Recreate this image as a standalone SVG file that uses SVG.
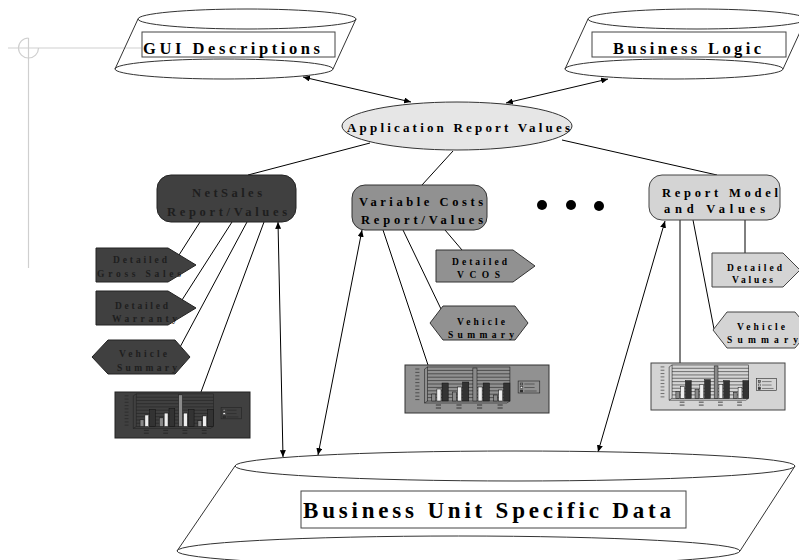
<svg xmlns="http://www.w3.org/2000/svg" xmlns:xlink="http://www.w3.org/1999/xlink" width="799" height="560" viewBox="0 0 799 560">
<style>
.cyl{fill:none;stroke:#333;stroke-width:1}
.box{fill:none;stroke:#444;stroke-width:1}
.t{font-family:"Liberation Serif","Times New Roman",serif;font-weight:bold;fill:#000}
.ln{stroke:#000;stroke-width:1;fill:none}
.dbl{stroke:#000;stroke-width:1;fill:none;marker-start:url(#ah);marker-end:url(#ah)}
.deco{stroke:#cfcfcf;stroke-width:1.2;fill:none}
.dk{fill:#404040;stroke:#222;stroke-width:1}
.md{fill:#919191;stroke:#333;stroke-width:1}
.lt{fill:#d4d4d4;stroke:#444;stroke-width:1}
.dkt{fill:#1e1e1e}
</style>
<defs>
<marker id="ah" viewBox="0 0 8 7" refX="8" refY="3.5" markerWidth="7" markerHeight="6" markerUnits="userSpaceOnUse" orient="auto-start-reverse">
<path d="M0,0 L8,3.5 L0,7 z" fill="#000"/>
</marker>
<symbol id="chart" viewBox="0 0 140 48" preserveAspectRatio="none">
<g stroke="#222" stroke-width="0.6" fill="none">
<path d="M10,4h4M10,7.4h4M10,10.8h4M10,14.2h4M10,17.6h4M10,21h4M10,24.4h4M10,27.8h4M10,31.2h4M10,34.6h4"/>
<rect x="22" y="2" width="80" height="34"/>
<path d="M22,5.4h80M22,8.8h80M22,12.2h80M22,15.6h80M22,19h80M22,22.4h80M22,25.8h80M22,29.2h80M22,32.6h80"/>
<path d="M19,4 L22,2 M19,38 L22,36 M19,4 V38 H99 L102,36"/>
</g>
<g stroke="#111" stroke-width="0.5">
<rect x="26" y="29" width="4" height="7" fill="#8a8a8a"/>
<rect x="31" y="24" width="4" height="12" fill="#eee"/>
<rect x="36" y="18" width="6" height="18" fill="#333"/>
<rect x="46" y="27" width="4" height="9" fill="#8a8a8a"/>
<rect x="51" y="22" width="4" height="14" fill="#eee"/>
<rect x="56" y="17" width="6" height="19" fill="#333"/>
<rect x="66" y="3" width="4" height="33" fill="#8a8a8a"/>
<rect x="71" y="22" width="4" height="14" fill="#eee"/>
<rect x="76" y="18" width="6" height="18" fill="#333"/>
<rect x="86" y="30" width="4" height="6" fill="#8a8a8a"/>
<rect x="91" y="25" width="4" height="11" fill="#eee"/>
<rect x="96" y="18" width="6" height="18" fill="#333"/>
</g>
<g stroke="#222" stroke-width="0.8" fill="none">
<path d="M30,40h5M30,43h5M50,40h5M50,43h5M70,40h5M70,43h5M90,40h5M90,43h5"/>
</g>
<rect x="110" y="16" width="21" height="12" fill="none" stroke="#222" stroke-width="0.6"/>
<g stroke="#222" stroke-width="0.5">
<rect x="112" y="18" width="2.5" height="2" fill="#8a8a8a"/>
<rect x="112" y="21.5" width="2.5" height="2" fill="#eee"/>
<rect x="112" y="25" width="2.5" height="2" fill="#333"/>
<path d="M116,19h10M116,22.5h10M116,26h12" fill="none"/>
</g>
</symbol>
</defs>

<g id="decoration">
<path class="deco" d="M8,48 H141"/>
<path class="deco" d="M28.5,38 V268"/>
<path class="deco" d="M28.5,38 A10,10 0 1 0 38.5,48"/>
</g>

<g id="gui">
<ellipse class="cyl" cx="247" cy="19" rx="109" ry="10"/>
<ellipse class="cyl" cx="224" cy="69" rx="109" ry="10"/>
<path class="cyl" d="M138,19 L115,69 M356,19 L333,69"/>
<rect class="box" x="142" y="32" width="193" height="25"/>
<text class="t" x="143" y="54" font-size="16.5" textLength="177" lengthAdjust="spacing">GUI Descriptions</text>
</g>

<g id="business-logic">
<ellipse class="cyl" cx="697" cy="19" rx="109" ry="10"/>
<ellipse class="cyl" cx="674" cy="69" rx="109" ry="10"/>
<path class="cyl" d="M588,19 L565,69 M806,19 L783,69"/>
<rect class="box" x="592" y="32" width="194" height="25"/>
<text class="t" x="613" y="54" font-size="16.5" textLength="148" lengthAdjust="spacing">Business Logic</text>
</g>

<g id="app-report-values">
<ellipse cx="457" cy="126" rx="115" ry="24" fill="#e6e6e6" stroke="#333"/>
<text class="t" x="347" y="132" font-size="13" textLength="223" lengthAdjust="spacing">Application Report Values</text>
</g>

<g id="connectors">
<line class="dbl" x1="303" y1="77" x2="411" y2="102"/>
<line class="dbl" x1="608" y1="79" x2="506" y2="103"/>
<line class="ln" x1="370" y1="143" x2="248" y2="175"/>
<line class="ln" x1="453" y1="151" x2="422" y2="185"/>
<line class="ln" x1="562" y1="140" x2="717" y2="175"/>
<line class="ln" x1="200" y1="222" x2="179" y2="255"/>
<line class="ln" x1="232" y1="222" x2="182" y2="300"/>
<line class="ln" x1="247" y1="222" x2="179" y2="349"/>
<line class="ln" x1="264" y1="222" x2="201" y2="392"/>
<line class="dbl" x1="278" y1="222" x2="283" y2="457"/>
<line class="ln" x1="445" y1="230" x2="462" y2="250"/>
<line class="ln" x1="403" y1="230" x2="441" y2="309"/>
<line class="ln" x1="383" y1="230" x2="428" y2="365"/>
<line class="dbl" x1="362" y1="230" x2="318" y2="455"/>
<line class="ln" x1="745" y1="220" x2="745" y2="253"/>
<line class="ln" x1="693" y1="220" x2="714" y2="329"/>
<line class="ln" x1="680" y1="220" x2="680" y2="363"/>
<line class="dbl" x1="665" y1="221" x2="598" y2="452"/>
</g>

<g id="netsales">
<rect class="dk" x="157" y="175" width="139" height="47" rx="14"/>
<text class="t dkt" x="192" y="197" font-size="12.5" textLength="70" lengthAdjust="spacing">NetSales</text>
<text class="t dkt" x="167" y="216" font-size="12.5" textLength="120" lengthAdjust="spacing">Report/Values</text>
</g>

<g id="ns-gross-sales">
<polygon class="dk" points="96,248 168,248 196,265 168,282 96,282"/>
<text class="t dkt" x="113" y="263" font-size="9.5" textLength="54" lengthAdjust="spacing">Detailed</text>
<text class="t dkt" x="97" y="277" font-size="9.5" textLength="84" lengthAdjust="spacing">Gross Sales</text>
</g>

<g id="ns-warranty">
<polygon class="dk" points="96,291 168,291 196,308 168,325 96,325"/>
<text class="t dkt" x="115" y="309" font-size="9.5" textLength="53" lengthAdjust="spacing">Detailed</text>
<text class="t dkt" x="112" y="322" font-size="9.5" textLength="65" lengthAdjust="spacing">Warranty</text>
</g>

<g id="ns-vehicle-summary">
<polygon class="dk" points="92,357 108,340 175,340 190,357 175,374 108,374"/>
<text class="t dkt" x="119" y="357" font-size="9.5" textLength="48" lengthAdjust="spacing">Vehicle</text>
<text class="t dkt" x="117" y="371" font-size="9.5" textLength="60" lengthAdjust="spacing">Summary</text>
</g>

<g id="ns-chart">
<rect class="dk" x="115" y="392" width="135" height="46"/>
<use xlink:href="#chart" x="115" y="392" width="135" height="46"/>
</g>

<g id="variable-costs">
<rect class="md" x="352" y="185" width="135" height="45" rx="13"/>
<text class="t" x="359" y="206" font-size="12.5" textLength="124" lengthAdjust="spacing">Variable Costs</text>
<text class="t" x="361" y="224" font-size="12.5" textLength="122" lengthAdjust="spacing">Report/Values</text>
</g>

<g id="vc-detailed-vcos">
<polygon class="md" points="436,250 513,250 535,266 513,282 436,282"/>
<text class="t" x="452" y="265" font-size="9.5" textLength="55" lengthAdjust="spacing">Detailed</text>
<text class="t" x="457" y="278" font-size="9.5" textLength="43" lengthAdjust="spacing">VCOS</text>
</g>

<g id="vc-vehicle-summary">
<polygon class="md" points="430,323 443,306 515,306 528,323 515,340 443,340"/>
<text class="t" x="457" y="325" font-size="9.5" textLength="48" lengthAdjust="spacing">Vehicle</text>
<text class="t" x="448" y="338" font-size="9.5" textLength="66" lengthAdjust="spacing">Summary</text>
</g>

<g id="vc-chart">
<rect class="md" x="405" y="365" width="144" height="48"/>
<use xlink:href="#chart" x="405" y="365" width="144" height="48"/>
</g>

<g id="ellipsis">
<circle cx="542" cy="205" r="5" fill="#000"/>
<circle cx="571" cy="205" r="5" fill="#000"/>
<circle cx="599" cy="206" r="5" fill="#000"/>
</g>

<g id="report-model">
<rect class="lt" x="649" y="175" width="131" height="45" rx="13"/>
<text class="t" x="662" y="197" font-size="12.5" textLength="116" lengthAdjust="spacing">Report Model</text>
<text class="t" x="664" y="213" font-size="12.5" textLength="101" lengthAdjust="spacing">and Values</text>
</g>

<g id="rm-detailed-values">
<polygon class="lt" points="712,253 783,253 800,270 783,287 712,287"/>
<text class="t" x="727" y="271" font-size="9.5" textLength="55" lengthAdjust="spacing">Detailed</text>
<text class="t" x="732" y="283" font-size="9.5" textLength="41" lengthAdjust="spacing">Values</text>
</g>

<g id="rm-vehicle-summary">
<polygon class="lt" points="713,330 727,312 795,312 810,330 795,348 727,348"/>
<text class="t" x="737" y="330" font-size="9.5" textLength="48" lengthAdjust="spacing">Vehicle</text>
<text class="t" x="727" y="343" font-size="9.5" textLength="71" lengthAdjust="spacing">Summary</text>
</g>

<g id="rm-chart">
<rect class="lt" x="651" y="363" width="134" height="47"/>
<use xlink:href="#chart" x="651" y="363" width="134" height="47"/>
</g>

<g id="business-unit-data">
<ellipse class="cyl" cx="515" cy="466" rx="280" ry="15"/>
<ellipse class="cyl" cx="458.5" cy="551" rx="281.5" ry="15"/>
<path class="cyl" d="M235,466 L177,551 M795,466 L740,551"/>
<rect class="box" x="301" y="491" width="385" height="37"/>
<text class="t" x="303" y="518" font-size="23" textLength="368" lengthAdjust="spacing">Business Unit Specific Data</text>
</g>
</svg>
